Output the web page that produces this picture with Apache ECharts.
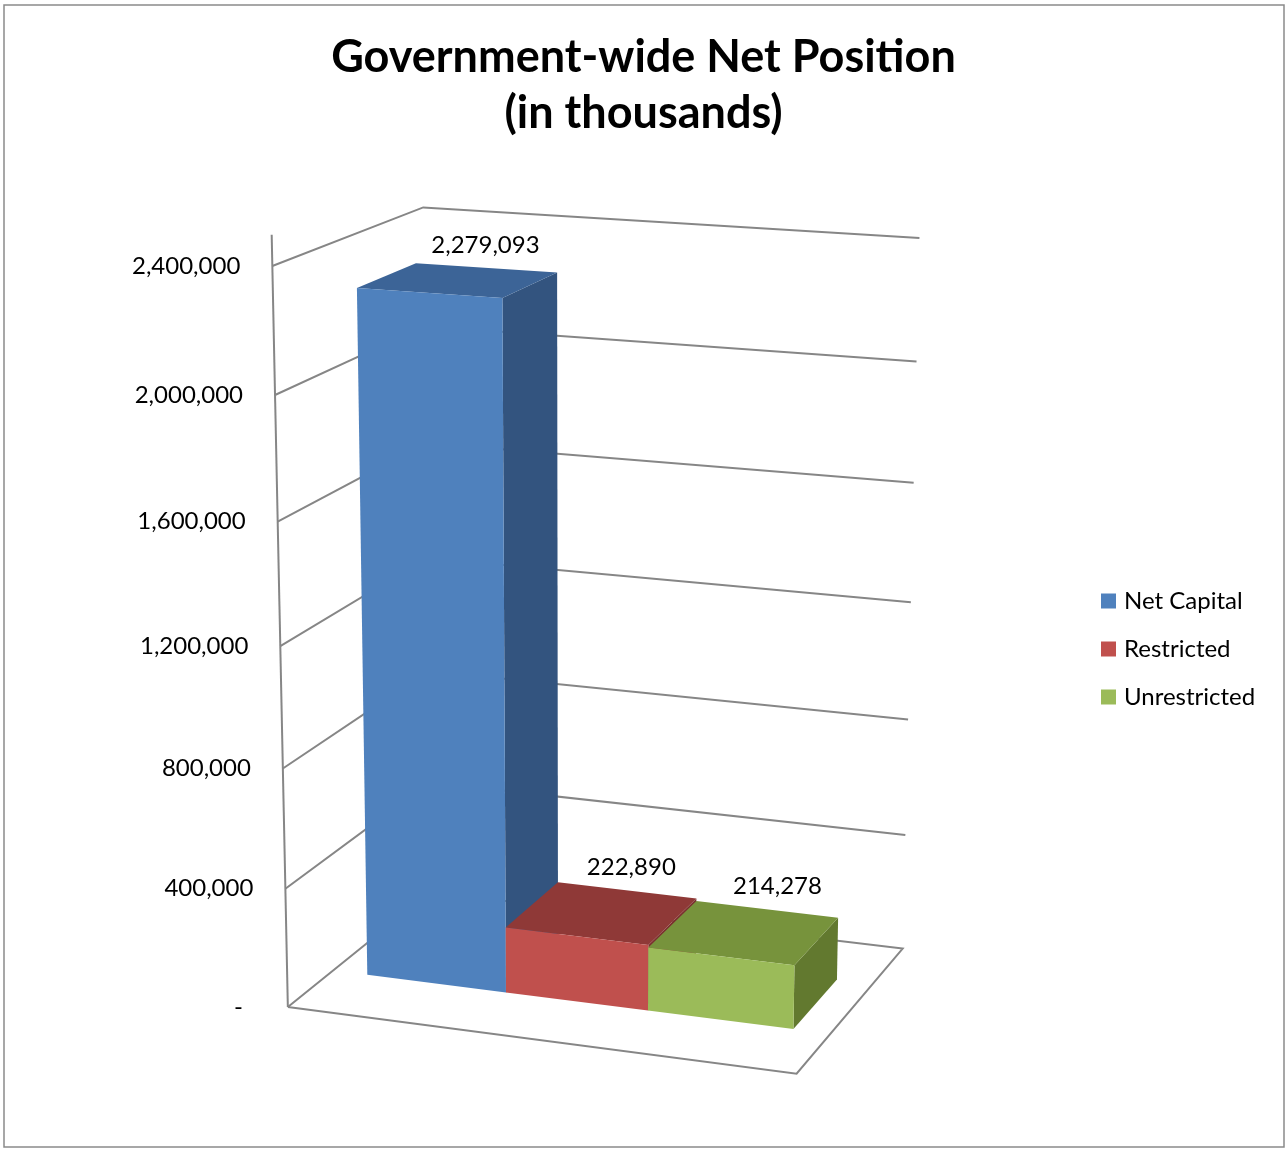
<!DOCTYPE html>
<html><head><meta charset="utf-8">
<script src="https://cdn.jsdelivr.net/npm/echarts@6/dist/echarts.min.js"></script>
<style>html,body{margin:0;padding:0;background:#fff}#c{width:1287px;height:1151px}</style>
</head><body><div id="c"></div>
<script>
// ---------------- data ----------------
const categories = ['Government-wide Net Position'];
const seriesNames = ['Net Capital', 'Restricted', 'Unrestricted'];
const netCapital = [2279093];
const restricted = [222890];
const unrestricted = [214278];
const valueTicks = [0, 400000, 800000, 1200000, 1600000, 2000000, 2400000];
const tickLabels = ['-', '400,000', '800,000', '1,200,000', '1,600,000', '2,000,000', '2,400,000'];

// ---------------- styles / layout ----------------
const FONT = 'Lato';
const GAP_WIDTH = 0.5;      // gap between clusters, fraction of one bar width
const W0 = 0.3, W1 = 0.7;   // bar depth span inside the floor depth
const faceColors = [
  { front: '#4F81BD', top: '#3C6497', side: '#33547F' },
  { front: '#C0504D', top: '#8F3937', side: '#7A302E' },
  { front: '#9BBB59', top: '#77933C', side: '#62792F' }
];
// perspective camera fitted to the frame of the 3D plot (u: across, v: up, w: depth)
const FRAME_PTS = [
  [0,0,0,288,1006],[1,0,0,797,1075],[1,0,1,902,949],[0,0,1,431,894],
  [0,1,0,272,264],[1,1,0,809,305],[1,1,1,920,237],[0,1,1,423,209],
  [0,1/6,0,285.5,888],[0,2/6,0,282.9,768],[0,3/6,0,280.2,646],[0,4/6,0,277.6,522],[0,5/6,0,274.8,395],
  [1,1/6,1,904.9,834],[1,2/6,1,907.8,718],[1,3/6,1,910.8,602],[1,4/6,1,913.8,483],[1,5/6,1,916.9,361]
];

function solve(M, r) {
  const n = r.length;
  for (let c = 0; c < n; c++) {
    let p = c;
    for (let i = c + 1; i < n; i++) if (Math.abs(M[i][c]) > Math.abs(M[p][c])) p = i;
    [M[c], M[p]] = [M[p], M[c]]; [r[c], r[p]] = [r[p], r[c]];
    for (let i = c + 1; i < n; i++) {
      const f = M[i][c] / M[c][c];
      for (let j = c; j < n; j++) M[i][j] -= f * M[c][j];
      r[i] -= f * r[c];
    }
  }
  const x = new Array(n).fill(0);
  for (let i = n - 1; i >= 0; i--) {
    let s = r[i];
    for (let j = i + 1; j < n; j++) s -= M[i][j] * x[j];
    x[i] = s / M[i][i];
  }
  return x;
}
function fitCamera(pts) {
  const n = 11;
  const M = Array.from({ length: n }, () => new Array(n).fill(0));
  const r = new Array(n).fill(0);
  pts.forEach(([X, Y, Z, x, y]) => {
    const xn = (x - 600) / 500, yn = (y - 600) / 500;
    const rows = [
      [[X, Y, Z, 1, 0, 0, 0, 0, -xn * X, -xn * Y, -xn * Z], xn],
      [[0, 0, 0, 0, X, Y, Z, 1, -yn * X, -yn * Y, -yn * Z], yn]
    ];
    rows.forEach(([a, b]) => {
      for (let i = 0; i < n; i++) {
        for (let j = 0; j < n; j++) M[i][j] += a[i] * a[j];
        r[i] += a[i] * b;
      }
    });
  });
  return solve(M, r);
}
const CAM = fitCamera(FRAME_PTS);
function P(u, v, w) {
  const p = CAM;
  const d = p[8] * u + p[9] * v + p[10] * w + 1;
  const x = (p[0] * u + p[1] * v + p[2] * w + p[3]) / d;
  const y = (p[4] * u + p[5] * v + p[6] * w + p[7]) / d;
  return [x * 500 + 600, y * 500 + 600];
}

const LINE = { stroke: '#868686', lineWidth: 2, fill: null };

function frameRender(params, api) {
  const cs = params.coordSys;
  const v = api.value(1);
  const pt = api.coord([0, v]);
  const fv = (cs.y + cs.height - pt[1]) / cs.height;
  const children = [];
  if (v === 0) {
    children.push({ type: 'polyline', shape: { points: [P(0,0,0), P(1,0,0), P(1,0,1), P(0,0,1), P(0,0,0)] }, style: LINE });
    children.push({ type: 'line', shape: { x1: P(0,0,0)[0], y1: P(0,0,0)[1], x2: P(0,1.04,0)[0], y2: P(0,1.04,0)[1] }, style: LINE });
  } else {
    children.push({ type: 'polyline', shape: { points: [P(0,fv,0), P(0,fv,1), P(1,fv,1)] }, style: LINE });
  }
  const lab = tickLabels[params.dataIndex];
  const a = P(0, fv, 0);
  const pad = lab === '-' ? 13 : 0;
  children.push({
    type: 'text',
    style: { text: lab, x: a[0] - 32 - pad, y: a[1], textAlign: 'right', textVerticalAlign: 'middle',
      font: '24px ' + FONT, fill: '#000' }
  });
  return { type: 'group', children };
}

function barRender(s) {
  const c = faceColors[s];
  return function (params, api) {
    const cs = params.coordSys;
    const val = api.value(1);
    const top = api.coord([api.value(0), val]);
    const base = api.coord([api.value(0), 0]);
    const band = api.size([1, 0])[0];
    const fv = (base[1] - top[1]) / cs.height;
    const uc = (top[0] - cs.x) / cs.width;
    const n = seriesNames.length;
    const b = band / cs.width / (n + GAP_WIDTH);
    const u0 = uc + (s - n / 2) * b, u1 = u0 + b, um = (u0 + u1) / 2;
    const front = [P(u0,0,W0), P(u1,0,W0), P(u1,fv,W0), P(u0,fv,W0)];
    const topF = [P(u0,fv,W0), P(u1,fv,W0), P(u1,fv,W1), P(u0,fv,W1)];
    const side = [P(u1,0,W0), P(u1,0,W1), P(u1,fv,W1), P(u1,fv,W0)];
    const lx = P(u1, fv, W0)[0] - 17;
    const ly = P(um, fv, W1)[1] - 23;
    return {
      type: 'group',
      children: [
        { type: 'polygon', shape: { points: side }, style: { fill: c.side } },
        { type: 'polygon', shape: { points: topF }, style: { fill: c.top } },
        { type: 'polygon', shape: { points: front }, style: { fill: c.front } },
        { type: 'text', style: { text: Math.round(val).toLocaleString('en-US'), x: lx, y: ly,
          textAlign: 'center', textVerticalAlign: 'middle', font: '24px ' + FONT, fill: '#000' } }
      ]
    };
  };
}

const seriesValues = [netCapital, restricted, unrestricted];
const chart = echarts.init(document.getElementById('c'), null, { renderer: 'canvas' });
chart.setOption({
  animation: false,
  backgroundColor: '#fff',
  title: {
    text: 'Government-wide Net Position\n(in thousands)',
    left: 'center', top: 24,
    textStyle: { fontFamily: FONT, fontWeight: 'bold', fontSize: 45, lineHeight: 56, color: '#000' }
  },
  legend: {
    data: seriesNames, orient: 'vertical', left: 1096, top: 584,
    icon: 'rect', itemWidth: 15, itemHeight: 15, itemGap: 24,
    textStyle: { fontFamily: FONT, fontSize: 24, lineHeight: 24, color: '#000', padding: [0, 0, 0, 3] }
  },
  graphic: [{ type: 'rect', shape: { x: 4, y: 5, width: 1280, height: 1142 },
    style: { fill: null, stroke: '#8a8a8a', lineWidth: 1.5 }, silent: true }],
  grid: { left: 288, top: 264, width: 509, height: 742 },
  xAxis: { type: 'category', data: categories, show: false },
  yAxis: { type: 'value', min: 0, max: 2400000, interval: 400000, show: false },
  series: [
    { type: 'custom', name: '_frame', renderItem: frameRender, data: valueTicks.map(v => [0, v]),
      encode: { x: 0, y: 1 }, z: 1, silent: true },
    ...seriesNames.map((nm, s) => ({
      type: 'custom', name: nm, renderItem: barRender(s),
      itemStyle: { color: faceColors[s].front },
      data: seriesValues[s].map((v, i) => [i, v]), encode: { x: 0, y: 1 }, z: 2 + s
    }))
  ]
});
</script></body></html>
